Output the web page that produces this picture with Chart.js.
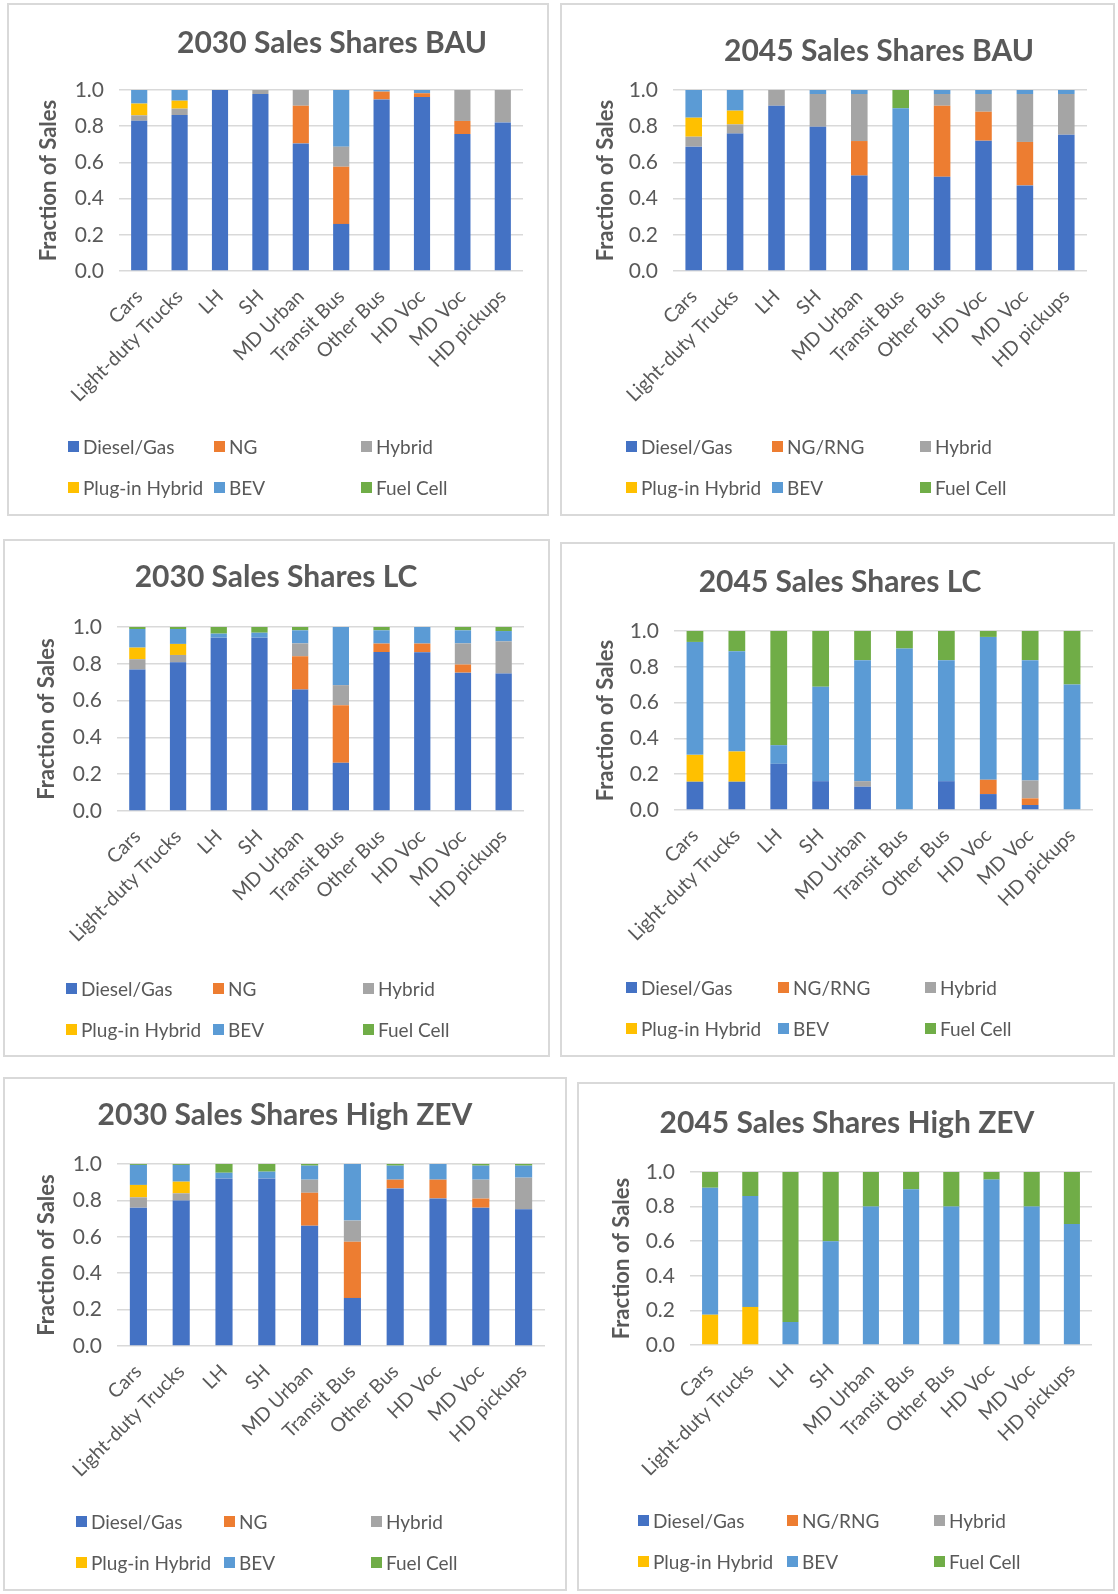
<!DOCTYPE html>
<html>
<head>
<meta charset="utf-8">
<script src="https://cdn.jsdelivr.net/npm/chart.js@4.4.1/dist/chart.umd.min.js"></script>
<style>
  body { margin: 0; background: #fff; }
  #page { position: relative; width: 1118px; height: 1594px; overflow: hidden; background: #fff; }
  .panel { position: absolute; box-sizing: border-box; border: 2px solid #d9d9d9; background: #fff; }
  .panel canvas { position: absolute; left: -2px; top: -2px; }
  .leg { position: absolute; display: flex; align-items: center; height: 22px;
         font: 19px Lato, "Open Sans", sans-serif; color: #595959; white-space: nowrap; }
  .leg i { display: inline-block; width: 11px; height: 11px; margin-right: 4px; }
</style>
</head>
<body>
<div id="page"></div>
<script>
const categories = ['Cars', 'Light-duty Trucks', 'LH', 'SH', 'MD Urban', 'Transit Bus', 'Other Bus', 'HD Voc', 'MD Voc', 'HD pickups'];
const fuels2030 = ['Diesel/Gas', 'NG', 'Hybrid', 'Plug-in Hybrid', 'BEV', 'Fuel Cell'];
const fuels2045 = ['Diesel/Gas', 'NG/RNG', 'Hybrid', 'Plug-in Hybrid', 'BEV', 'Fuel Cell'];
const fuelColors = ['#4472C4', '#ED7D31', '#A5A5A5', '#FFC000', '#5B9BD5', '#70AD47'];

// rows follow the fuel order: Diesel/Gas, NG, Hybrid, Plug-in Hybrid, BEV, Fuel Cell
const bau2030 = [
  [0.830, 0.862, 1.000, 0.978, 0.705, 0.260, 0.948, 0.961, 0.757, 0.821],
  [0, 0, 0, 0, 0.208, 0.316, 0.042, 0.021, 0.072, 0],
  [0.030, 0.035, 0, 0.022, 0.087, 0.111, 0.005, 0, 0.171, 0.179],
  [0.065, 0.044, 0, 0, 0, 0, 0, 0, 0, 0],
  [0.075, 0.059, 0, 0, 0, 0.313, 0.005, 0.018, 0, 0],
  [0, 0, 0, 0, 0, 0, 0, 0, 0, 0]
];
const bau2045 = [
  [0.687, 0.759, 0.913, 0.797, 0.527, 0, 0.521, 0.720, 0.473, 0.753],
  [0, 0, 0, 0, 0.191, 0, 0.392, 0.160, 0.240, 0],
  [0.055, 0.051, 0.087, 0.181, 0.260, 0, 0.065, 0.098, 0.265, 0.225],
  [0.105, 0.076, 0, 0, 0, 0, 0, 0, 0, 0],
  [0.153, 0.114, 0, 0.022, 0.022, 0.899, 0.022, 0.022, 0.022, 0.022],
  [0, 0, 0, 0, 0, 0.101, 0, 0, 0, 0]
];
const lc2030 = [
  [0.769, 0.808, 0.942, 0.942, 0.660, 0.262, 0.864, 0.863, 0.752, 0.747],
  [0, 0, 0, 0, 0.181, 0.313, 0.046, 0.047, 0.044, 0],
  [0.056, 0.040, 0, 0, 0.070, 0.109, 0, 0, 0.115, 0.175],
  [0.063, 0.060, 0, 0, 0, 0, 0, 0, 0, 0],
  [0.101, 0.081, 0.022, 0.027, 0.071, 0.316, 0.072, 0.090, 0.071, 0.056],
  [0.011, 0.011, 0.036, 0.031, 0.018, 0, 0.018, 0, 0.018, 0.022]
];
const lc2045 = [
  [0.158, 0.158, 0.258, 0.161, 0.130, 0, 0.161, 0.089, 0.028, 0],
  [0, 0, 0, 0, 0, 0, 0, 0.080, 0.037, 0],
  [0, 0, 0, 0, 0.031, 0, 0, 0, 0.100, 0],
  [0.150, 0.169, 0, 0, 0, 0, 0, 0, 0, 0],
  [0.631, 0.560, 0.104, 0.527, 0.676, 0.902, 0.676, 0.798, 0.672, 0.701],
  [0.061, 0.113, 0.638, 0.312, 0.163, 0.098, 0.163, 0.033, 0.163, 0.299]
];
const zev2030 = [
  [0.760, 0.799, 0.921, 0.921, 0.661, 0.264, 0.866, 0.811, 0.760, 0.751],
  [0, 0, 0, 0, 0.181, 0.309, 0.048, 0.103, 0.050, 0],
  [0.057, 0.040, 0, 0, 0.072, 0.116, 0, 0, 0.104, 0.174],
  [0.068, 0.064, 0, 0, 0, 0, 0, 0, 0, 0],
  [0.110, 0.092, 0.031, 0.037, 0.077, 0.311, 0.077, 0.086, 0.077, 0.066],
  [0.005, 0.005, 0.048, 0.042, 0.009, 0, 0.009, 0, 0.009, 0.009]
];
const zev2045 = [
  [0, 0, 0, 0, 0, 0, 0, 0, 0, 0],
  [0, 0, 0, 0, 0, 0, 0, 0, 0, 0],
  [0, 0, 0, 0, 0, 0, 0, 0, 0, 0],
  [0.175, 0.220, 0, 0, 0, 0, 0, 0, 0, 0],
  [0.734, 0.641, 0.133, 0.600, 0.800, 0.900, 0.800, 0.956, 0.800, 0.700],
  [0.091, 0.139, 0.867, 0.400, 0.200, 0.100, 0.200, 0.044, 0.200, 0.300]
];

// panel boxes and inner layout (pixels, relative to each box)
const panels = [
  { title: '2030 Sales Shares BAU', data: bau2030, names: fuels2030,
    box: [7, 3, 542, 513], yW: 112, padR: 26, tTop: 22, tBot: 29, tX: 325, yTitle: 42,
    xH: 135, padB: 110, legRows: [441, 482], legCols: [59, 205, 352] },
  { title: '2045 Sales Shares BAU', data: bau2045, names: fuels2045,
    box: [560, 3, 555, 513], yW: 113, padR: 28, tTop: 30, tBot: 21, tX: 319, yTitle: 46,
    xH: 135, padB: 110, legRows: [441, 482], legCols: [64, 210, 358] },
  { title: '2030 Sales Shares LC', data: lc2030, names: fuels2030,
    box: [3, 539, 547, 518], yW: 114, padR: 26, tTop: 20, tBot: 32, tX: 273, yTitle: 44,
    xH: 135, padB: 111, legRows: [447, 488], legCols: [61, 208, 358] },
  { title: '2045 Sales Shares LC', data: lc2045, names: fuels2045,
    box: [560, 542, 555, 515], yW: 114, padR: 22, tTop: 22, tBot: 31, tX: 280, yTitle: 46,
    xH: 135, padB: 112, legRows: [443, 484], legCols: [64, 216, 363] },
  { title: '2030 Sales Shares High ZEV', data: zev2030, names: fuels2030,
    box: [3, 1077, 564, 514], yW: 114, padR: 22, tTop: 20, tBot: 31, tX: 282, yTitle: 44,
    xH: 135, padB: 110, legRows: [442, 483], legCols: [71, 219, 366] },
  { title: '2045 Sales Shares High ZEV', data: zev2045, names: fuels2045,
    box: [577, 1082, 538, 509], yW: 113, padR: 23, tTop: 23, tBot: 31, tX: 270, yTitle: 45,
    xH: 135, padB: 111, legRows: [436, 477], legCols: [59, 208, 355] }
];

const grey = '#595959';
const fontFam = 'Lato, "Open Sans", sans-serif';

// shift the title block so its centre lands where the reference has it
const titleShift = {
  id: 'titleShift',
  afterLayout(chart, args, opts) {
    const tb = chart.titleBlock;
    if (!tb) return;
    const d = opts.cx - (tb.left + tb.right) / 2;
    tb.left += d;
    tb.right += d;
  }
};

const page = document.getElementById('page');

panels.forEach(p => {
  const [bx, by, bw, bh] = p.box;
  const div = document.createElement('div');
  div.className = 'panel';
  div.style.left = bx + 'px';
  div.style.top = by + 'px';
  div.style.width = bw + 'px';
  div.style.height = bh + 'px';
  page.appendChild(div);

  const canvas = document.createElement('canvas');
  canvas.width = bw;
  canvas.height = bh;
  canvas.style.width = bw + 'px';
  canvas.style.height = bh + 'px';
  div.appendChild(canvas);

  new Chart(canvas, {
    type: 'bar',
    data: {
      labels: categories,
      datasets: p.data.map((vals, i) => ({
        label: p.names[i],
        data: vals,
        backgroundColor: fuelColors[i],
        barPercentage: 0.4,
        categoryPercentage: 1
      }))
    },
    plugins: [titleShift],
    options: {
      responsive: false,
      animation: false,
      devicePixelRatio: 1,
      layout: { padding: { left: 0, right: p.padR, top: 0, bottom: p.padB } },
      plugins: {
        legend: { display: false },
        tooltip: { enabled: false },
        titleShift: { cx: p.tX },
        title: {
          display: true,
          text: p.title,
          color: grey,
          font: { family: fontFam, size: 30, weight: 'bold' },
          padding: { top: p.tTop, bottom: p.tBot }
        }
      },
      scales: {
        x: {
          stacked: true,
          grid: { display: false },
          border: { display: false },
          ticks: {
            color: grey,
            font: { family: fontFam, size: 19.5 },
            minRotation: 45,
            maxRotation: 45,
            autoSkip: false,
            padding: 6
          },
          afterFit: s => { s.height = p.xH; }
        },
        y: {
          stacked: true,
          min: 0,
          max: 1,
          grid: { color: '#d9d9d9', lineWidth: 1.5, drawTicks: false },
          border: { display: false },
          ticks: {
            stepSize: 0.2,
            color: grey,
            font: { family: fontFam, size: 21 },
            padding: 15,
            callback: v => v.toFixed(1)
          },
          title: {
            display: true,
            text: 'Fraction of Sales',
            color: grey,
            font: { family: fontFam, size: 22, weight: 'bold' },
            padding: { top: p.yTitle - 13, bottom: 0 }
          },
          afterFit: s => { s.width = p.yW; }
        }
      }
    }
  });

  // legend laid out as a 3-column grid like the original
  p.names.forEach((name, i) => {
    const row = Math.floor(i / 3), col = i % 3;
    const item = document.createElement('div');
    item.className = 'leg';
    item.style.left = p.legCols[col] + 'px';
    item.style.top = (p.legRows[row] - 11) + 'px';
    item.innerHTML = '<i style="background:' + fuelColors[i] + '"></i>' + name;
    div.appendChild(item);
  });
});
</script>
</body>
</html>
